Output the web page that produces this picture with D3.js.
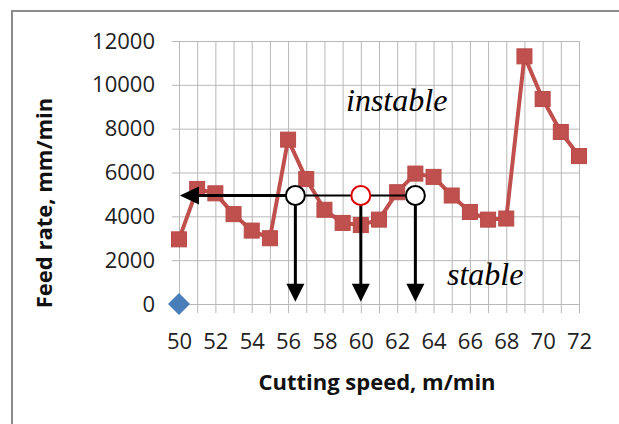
<!DOCTYPE html>
<html>
<head>
  <title>Feed rate vs cutting speed</title>
  <script src="https://d3js.org/d3.v7.min.js"></script>
  <style>
    body { margin: 0; background: #fff; }
    .tick text { font-family: "Open Sans", sans-serif; fill: #222; }
  </style>
</head>
<body>
  <div id="chart"></div>
  <script>
    // cutting speed (m/min) and limit feed rate (mm/min)
    const speeds = [50, 51, 52, 53, 54, 55, 56, 57, 58, 59, 60, 61, 62, 63, 64, 65, 66, 67, 68, 69, 70, 71, 72];
    const feeds = [2950, 5250, 5050, 4100, 3350, 3000, 7500, 5700, 4300, 3700, 3600, 3850, 5100, 5950, 5800, 4950, 4200, 3850, 3900, 11300, 9350, 7850, 6750];
    // lone blue point
    const originPoint = [50, 0];
    // annotation: feed level, circles, arrow ends
    const arrowFeed = 4950;
    const circleSpeeds = [56.4, 60, 63];
    const circleColors = ["#000", "#e00000", "#000"];
    const arrowTipFeed = 100;
    const arrowTipSpeed = 50.05;
    const xTicks = [50, 52, 54, 56, 58, 60, 62, 64, 66, 68, 70, 72];
    const yTicks = [0, 2000, 4000, 6000, 8000, 10000, 12000];

    const W = 619, H = 424;
    const x = d3.scaleLinear().domain([50, 72]).range([179, 579]);
    const y = d3.scaleLinear().domain([0, 12000]).range([304, 41]);

    const svg = d3.select("#chart").append("svg")
      .attr("width", W).attr("height", H);

    // outer frame
    svg.append("path")
      .attr("d", `M12,${H + 5}V11H${W + 5}`)
      .attr("fill", "none").attr("stroke", "#8c8c8c").attr("stroke-width", 2);

    // vertical gridlines (with ticks below the axis)
    svg.append("g")
      .attr("transform", "translate(0,313)")
      .call(d3.axisBottom(x).tickValues(d3.range(50, 73)).tickSize(-(313 - 41)).tickFormat(""))
      .call(g => g.select(".domain").remove())
      .call(g => g.selectAll("line").attr("stroke", "#b8b8b8"));

    // horizontal gridlines (with ticks left of the axis)
    svg.append("g")
      .attr("transform", "translate(172,0)")
      .call(d3.axisLeft(y).tickValues(yTicks).tickSize(-(579 - 172)).tickFormat(""))
      .call(g => g.select(".domain").remove())
      .call(g => g.selectAll("line").attr("stroke", "#b8b8b8"));

    // tick labels
    svg.append("g")
      .attr("transform", "translate(0,304)")
      .call(d3.axisBottom(x).tickValues(xTicks).tickSize(0).tickPadding(29).tickFormat(d3.format("d")))
      .call(g => g.select(".domain").remove())
      .call(g => g.selectAll("text").style("font-size", "22px"));

    svg.append("g")
      .attr("transform", "translate(172,0)")
      .call(d3.axisLeft(y).tickValues(yTicks).tickSize(0).tickPadding(17).tickFormat(d3.format("d")))
      .call(g => g.select(".domain").remove())
      .call(g => g.selectAll("text").style("font-size", "22px"));

    // axis titles
    svg.append("text")
      .attr("x", 377).attr("y", 390)
      .attr("text-anchor", "middle")
      .style("font-family", "'Open Sans', sans-serif")
      .style("font-weight", "bold").style("font-size", "22px")
      .attr("fill", "#111")
      .text("Cutting speed, m/min");

    svg.append("text")
      .attr("transform", "translate(52,203) rotate(-90)")
      .attr("text-anchor", "middle")
      .style("font-family", "'Open Sans', sans-serif")
      .style("font-weight", "bold").style("font-size", "22px")
      .attr("fill", "#111")
      .text("Feed rate, mm/min");

    // red series
    const pts = speeds.map((s, i) => [s, feeds[i]]);
    svg.append("path")
      .datum(pts)
      .attr("fill", "none")
      .attr("stroke", "#c0504d")
      .attr("stroke-width", 4)
      .attr("stroke-linejoin", "round")
      .attr("d", d3.line().x(d => x(d[0])).y(d => y(d[1])));

    svg.selectAll(".sq")
      .data(pts)
      .enter().append("rect")
      .attr("class", "sq")
      .attr("x", d => x(d[0]) - 7.5).attr("y", d => y(d[1]) - 7.5)
      .attr("width", 15).attr("height", 15)
      .attr("fill", "#c0504d")
      .attr("stroke", "#b94a47").attr("stroke-width", 1);

    // blue diamond
    svg.append("path")
      .attr("d", "M0,-11L11,0L0,11L-11,0Z")
      .attr("transform", `translate(${x(originPoint[0])},${y(originPoint[1])})`)
      .attr("fill", "#4a7ebb");

    // annotation arrows
    const ay = y(arrowFeed);
    const ann = svg.append("g");
    ann.append("line")
      .attr("x1", x(arrowTipSpeed) + 14).attr("x2", x(circleSpeeds[0]))
      .attr("y1", ay).attr("y2", ay)
      .attr("stroke", "#000").attr("stroke-width", 3);
    ann.append("line")
      .attr("x1", x(circleSpeeds[0])).attr("x2", x(circleSpeeds[2]))
      .attr("y1", ay).attr("y2", ay)
      .attr("stroke", "#000").attr("stroke-width", 2);
    const tx = x(arrowTipSpeed);
    ann.append("path")
      .attr("d", `M${tx},${ay}L${tx + 19},${ay - 9}L${tx + 19},${ay + 9}Z`)
      .attr("fill", "#000");

    const tipY = y(arrowTipFeed);
    circleSpeeds.forEach(s => {
      const cx = x(s);
      ann.append("line")
        .attr("x1", cx).attr("x2", cx)
        .attr("y1", ay).attr("y2", tipY - 14)
        .attr("stroke", "#000").attr("stroke-width", 3);
      ann.append("path")
        .attr("d", `M${cx},${tipY}L${cx - 9},${tipY - 18}L${cx + 9},${tipY - 18}Z`)
        .attr("fill", "#000");
    });

    ann.selectAll("circle")
      .data(circleSpeeds)
      .enter().append("circle")
      .attr("cx", d => x(d)).attr("cy", ay).attr("r", 9.5)
      .attr("fill", "#fff")
      .attr("stroke", (d, i) => circleColors[i])
      .attr("stroke-width", 2);

    // region labels
    svg.append("text")
      .attr("x", 346).attr("y", 111)
      .style("font-family", "'Liberation Serif', 'Times New Roman', serif")
      .style("font-style", "italic").style("font-size", "32px")
      .attr("fill", "#000")
      .text("instable");

    svg.append("text")
      .attr("x", 447).attr("y", 285)
      .style("font-family", "'Liberation Serif', 'Times New Roman', serif")
      .style("font-style", "italic").style("font-size", "32px")
      .attr("fill", "#000")
      .text("stable");
  </script>
</body>
</html>
